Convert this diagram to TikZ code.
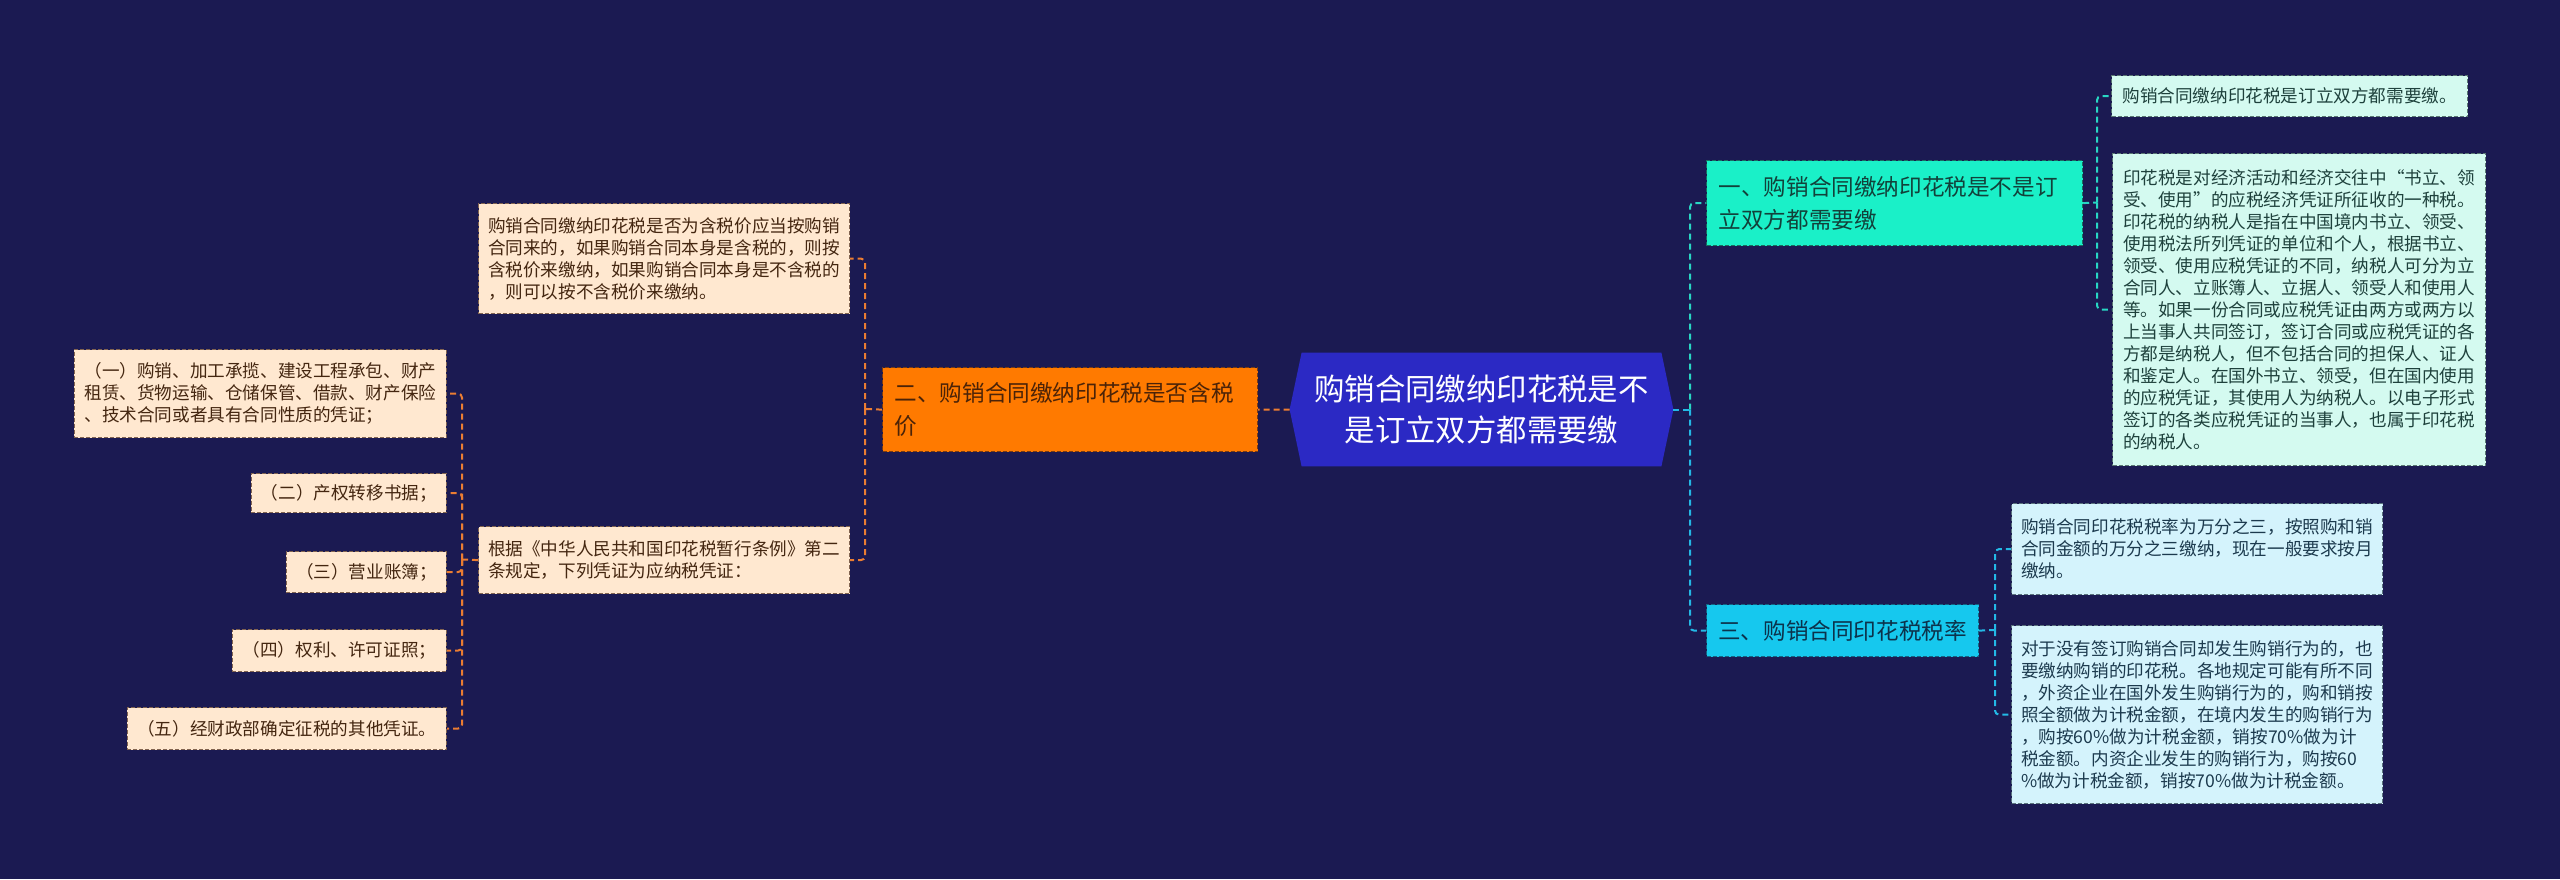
\documentclass[tikz,border=0pt]{standalone}
\usepackage{fontspec}
\setmainfont{Noto Sans CJK SC}
\usetikzlibrary{backgrounds}
\definecolor{bgc}{RGB}{27,26,82}
\definecolor{cfill}{RGB}{43,41,196}
\definecolor{tealF}{RGB}{26,240,200}
\definecolor{tealT}{RGB}{18,65,58}
\definecolor{tealB}{RGB}{25,110,95}
\definecolor{tealLF}{RGB}{212,250,240}
\definecolor{tealLT}{RGB}{30,65,60}
\definecolor{tealLB}{RGB}{90,120,115}
\definecolor{tealLine}{RGB}{40,215,195}
\definecolor{cyanF}{RGB}{22,200,238}
\definecolor{cyanT}{RGB}{12,50,75}
\definecolor{cyanB}{RGB}{20,100,130}
\definecolor{cyanLF}{RGB}{212,243,252}
\definecolor{cyanLT}{RGB}{28,58,78}
\definecolor{cyanLB}{RGB}{90,115,125}
\definecolor{cyanLine}{RGB}{35,185,230}
\definecolor{orF}{RGB}{255,122,0}
\definecolor{orT}{RGB}{75,35,8}
\definecolor{orB}{RGB}{120,60,20}
\definecolor{orLF}{RGB}{255,232,208}
\definecolor{orLT}{RGB}{68,38,16}
\definecolor{orLB}{RGB}{130,100,80}
\definecolor{orLine}{RGB}{235,125,50}
\tikzset{
  boxbase/.style={anchor=north west, inner ysep=0pt, dash pattern=on 2pt off 1pt, line width=0.6pt},
  leafbox/.style={boxbase, align=left, inner xsep=0pt, font=\fontsize{8.8}{11}\selectfont},
  branchbox/.style={boxbase, align=left, inner xsep=6pt, font=\fontsize{11.3}{16.5}\selectfont},
  tealbranch/.style={branchbox, fill=tealF, draw=tealB, text=tealT},
  cyanbranch/.style={branchbox, fill=cyanF, draw=cyanB, text=cyanT},
  orbranch/.style={branchbox, fill=orF, draw=orB, text=orT},
  tealleaf/.style={leafbox, fill=tealLF, draw=tealLB, text=tealLT},
  cyanleaf/.style={leafbox, fill=cyanLF, draw=cyanLB, text=cyanLT},
  orleaf/.style={leafbox, fill=orLF, draw=orLB, text=orLT},
  orsub/.style={orleaf, anchor=north east},
  conn/.style={line width=1pt, dash pattern=on 3pt off 2pt, rounded corners=2pt},
  conO/.style={conn, draw=orLine},
  conT/.style={conn, draw=tealLine},
  conC/.style={conn, draw=cyanLine},
  cnode/.style={align=center, text=white, inner sep=0pt, minimum width=191.5pt, minimum height=56.5pt, font=\fontsize{15.2}{20.5}\selectfont},
}
\begin{document}
\begin{tikzpicture}[x=0.5pt,y=-0.5pt]
\useasboundingbox (0,0) rectangle (2560,879);
% central topic
\node[cnode] (c) at (1481.5,409.5) {购销合同缴纳印花税是不\\是订立双方都需要缴};
\begin{pgfonlayer}{background}
\fill[bgc] (0,0) rectangle (2560,879);
\fill[cfill] (c.west) -- ([xshift=6pt]c.north west) -- ([xshift=-6pt]c.north east) -- (c.east) -- ([xshift=-6pt]c.south east) -- ([xshift=6pt]c.south west) -- cycle;
\end{pgfonlayer}

% branches
\node[tealbranch, minimum width=188pt, minimum height=42.5pt, text width=176pt] (b1) at (1706,160) {一、购销合同缴纳印花税是不是订\\立双方都需要缴};
\node[cyanbranch, minimum width=136pt, minimum height=26pt, inner xsep=0pt] (b3) at (1706,604) {三、购销合同印花税税率};
\node[orbranch, minimum width=187.5pt, minimum height=42pt, text width=175.5pt] (b2) at (882,367) {二、购销合同缴纳印花税是否含税\\价};

% right leaves
\node[tealleaf, minimum width=178pt, minimum height=20.5pt] (l1a) at (2111,75) {购销合同缴纳印花税是订立双方都需要缴。};
\node[tealleaf, minimum width=186.5pt, minimum height=156pt] (l1b) at (2112,153) {印花税是对经济活动和经济交往中“书立、领\\受、使用”的应税经济凭证所征收的一种税。\\印花税的纳税人是指在中国境内书立、领受、\\使用税法所列凭证的单位和个人，根据书立、\\领受、使用应税凭证的不同，纳税人可分为立\\合同人、立账簿人、立据人、领受人和使用人\\等。如果一份合同或应税凭证由两方或两方以\\上当事人共同签订，签订合同或应税凭证的各\\方都是纳税人，但不包括合同的担保人、证人\\和鉴定人。在国外书立、领受，但在国内使用\\的应税凭证，其使用人为纳税人。以电子形式\\签订的各类应税凭证的当事人，也属于印花税\\的纳税人。};
\node[cyanleaf, minimum width=185.5pt, minimum height=45.5pt] (l3a) at (2011,503) {购销合同印花税税率为万分之三，按照购和销\\合同金额的万分之三缴纳，现在一般要求按月\\缴纳。};
\node[cyanleaf, minimum width=185.5pt, minimum height=89pt] (l3b) at (2011,625) {对于没有签订购销合同却发生购销行为的，也\\要缴纳购销的印花税。各地规定可能有所不同\\，外资企业在国外发生购销行为的，购和销按\\照全额做为计税金额，在境内发生的购销行为\\，购按60\%做为计税金额，销按70\%做为计\\税金额。内资企业发生的购销行为，购按60\\\%做为计税金额，销按70\%做为计税金额。};

% left leaves
\node[orleaf, minimum width=185.5pt, minimum height=55pt] (l2a) at (478,203) {购销合同缴纳印花税是否为含税价应当按购销\\合同来的，如果购销合同本身是含税的，则按\\含税价来缴纳，如果购销合同本身是不含税的\\，则可以按不含税价来缴纳。};
\node[orleaf, minimum width=185.5pt, minimum height=33.5pt] (l2b) at (478,526) {根据《中华人民共和国印花税暂行条例》第二\\条规定，下列凭证为应纳税凭证：};

% sub leaves
\node[orsub, minimum width=186pt, minimum height=44pt] (s1) at (447,349) {（一）购销、加工承揽、建设工程承包、财产\\租赁、货物运输、仓储保管、借款、财产保险\\、技术合同或者具有合同性质的凭证；};
\node[orsub, minimum width=97.5pt, minimum height=19.5pt] (s2) at (447,473) {（二）产权转移书据；};
\node[orsub, minimum width=80pt, minimum height=20.5pt] (s3) at (447,551) {（三）营业账簿；};
\node[orsub, minimum width=107pt, minimum height=21pt] (s4) at (447,629) {（四）权利、许可证照；};
\node[orsub, minimum width=159.5pt, minimum height=21pt] (s5) at (447,707) {（五）经财政部确定征税的其他凭证。};

% trunk coordinates
\coordinate (tC) at (1690,409.5);
\coordinate (tT) at (2097,202.5);
\coordinate (tB) at (1995,630);
\coordinate (tO) at (865,409);
\coordinate (tS) at (462,559.5);

% connectors
\draw[conC] (c.east) -- (tC);
\draw[conT] (tC) |- (b1.west);
\draw[conC] (tC) |- (b3.west);
\draw[conO] (c.west) -- (b2.east);

\draw[conT] (b1.east) -- (tT);
\draw[conT] (tT) |- (l1a.west);
\draw[conT] (tT) |- (l1b.west);

\draw[conC] (b3.east) -- (tB);
\draw[conC] (tB) |- (l3a.west);
\draw[conC] (tB) |- (l3b.west);

\draw[conO] (b2.west) -- (tO);
\draw[conO] (tO) |- (l2a.east);
\draw[conO] (tO) |- (l2b.east);

\draw[conO] (l2b.west) -- (tS);
\draw[conO] (tS) |- (s1.east);
\draw[conO] (tS) |- (s2.east);
\draw[conO] (tS) |- (s3.east);
\draw[conO] (tS) |- (s4.east);
\draw[conO] (tS) |- (s5.east);
\end{tikzpicture}
\end{document}
